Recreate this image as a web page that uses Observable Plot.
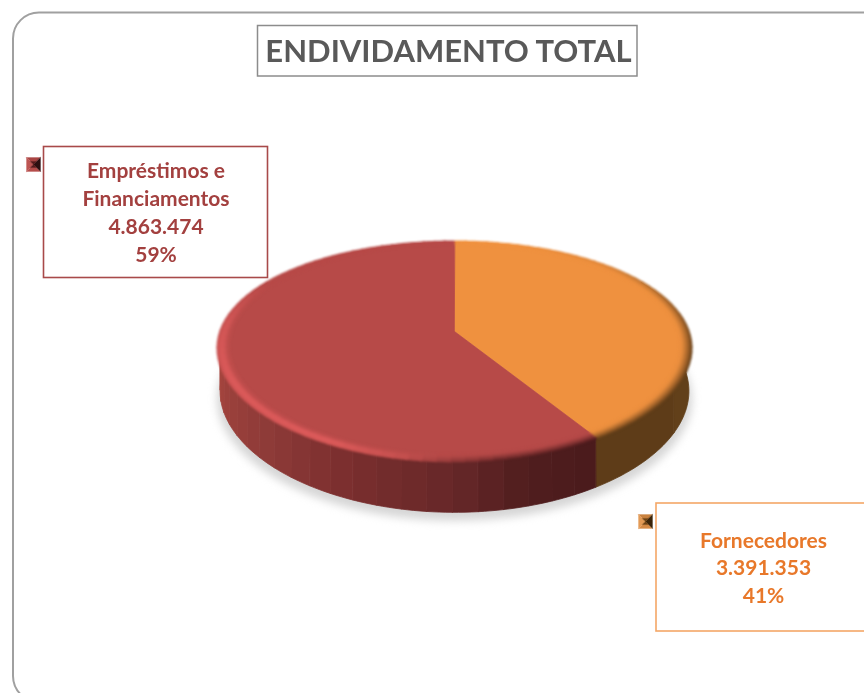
<!DOCTYPE html>
<html><head><meta charset="utf-8">
<style>html,body{margin:0;padding:0;background:#fff;overflow:hidden}svg{display:block}</style>
<script src="https://cdn.jsdelivr.net/npm/d3@7"></script>
<script src="https://cdn.jsdelivr.net/npm/@observablehq/plot@0.6"></script>
</head><body><div id="chart"></div>
<script>
const chartTitle = "ENDIVIDAMENTO TOTAL";
const categories = ["Fornecedores", "Empréstimos e Financiamentos"];
const values = [3391353, 4863474];
const valueLabels = ["3.391.353", "4.863.474"];
const percentLabels = ["41%", "59%"];
const nameLines = ["Fornecedores", "Empréstimos e\nFinanciamentos"];

const total = d3.sum(values);
const split = 360 * values[0] / total;            // clockwise from 12 o'clock
const ranges = [[0, split], [split, 360]];

// perspective disc
const cx = 454, cy = 331, R = 235.3, S = 107.4, k = 0.18, kx = 0.15;
const rad = Math.PI / 180;
const topPt = (a, s = 1) => {
  const u = s * Math.sin(a * rad), v = -s * Math.cos(a * rad);
  return [cx + R * u / (1 - kx * v), cy + S * v / (1 - k * v)];
};
const botPt = (a, dy = 42) => {
  const u = Math.sin(a * rad), v = -Math.cos(a * rad);
  return [cx + 0.985 * R * u / (1 - kx * v), cy + dy + 1.06 * S * v / (1 - k * v)];
};
const steps = (a0, a1, d) => {
  const n = Math.max(1, Math.ceil((a1 - a0) / d));
  return d3.range(n + 1).map(i => a0 + (a1 - a0) * i / n);
};

const baseColors = ["#ef913f", "#b74a48"];
const lightRed = "#dd5b5b", darkRed = "#47181a", darkOrange = "#5f3c18";
const wallRed = d3.scaleLinear().domain([split, 165, 180, 205, 225, 260, 300]).range(["#4a1a1c", "#501e1e", "#662728", "#7c2f2f", "#8d3a38", "#a5453e", "#a5453e"]);
const wallOrange = d3.scaleLinear().domain([60, 100, split]).range(["#66421a", "#62401a", "#5c3a17"]);
const hiRed = d3.scaleLinear().domain([180, 208, 245, 275, 300]).range([0, 1, .95, .7, 0]).clamp(true);
const dkRed = d3.scaleLinear().domain([split, 170, 192]).range([1, .8, 0]).clamp(true);
const dkOrange = d3.scaleLinear().domain([15, 45, 75, 100]).range([0, .15, .7, 1]).clamp(true);

// polygons
function poly(rows, id, pts, fill) { for (const [x, y] of pts) rows.push({x, y, id, fill}); }
const shadow = [], walls = [], tops = [], rings = [];
let id = 0;
poly(shadow, id++, steps(0, 360, 4).map(a => { const [x, y] = botPt(a, 50); return [x + (x - cx) * .012, y]; }), "#d6d6d6");
ranges.forEach(([a0, a1], c) => {
  const as = steps(Math.max(a0, 60), Math.min(a1, 300), c ? 5.5 : 30);
  d3.pairs(as).forEach(([p, q]) => {
    const m = (p + q) / 2;
    const pts = steps(p, q, 1.5);
    poly(walls, id++, [...pts.map(a => topPt(a, .985)), ...pts.slice().reverse().map(a => botPt(a))], c ? wallRed(m) : wallOrange(m));
  });
  poly(tops, id++, [[cx, cy], ...steps(a0, a1, 2).map(a => topPt(a, .975))], baseColors[c]);
  const layers = 7, width = .05;
  d3.range(layers).forEach(l => {
    const t = (l + .5) / layers, s1 = 1 - width * l / layers, s2 = 1 - width * (l + 1) / layers - .006;
    d3.pairs(steps(a0, a1, 3)).forEach(([p, q]) => {
      const m = (p + q) / 2;
      const qq = Math.min(q + .6, a1);
      let col = baseColors[c];
      if (c) {
        const bump = Math.sin(Math.PI * Math.min(1, (t + .12) / 1.12));
        col = d3.interpolateRgb(col, lightRed)(hiRed(m) * bump);
        col = d3.interpolateRgb(col, darkRed)(dkRed(m) * Math.pow(1 - t, 1.3));
      } else {
        col = d3.interpolateRgb(col, darkOrange)(dkOrange(m) * Math.pow(1 - t, 1.3));
      }
      poly(rings, id++, [...steps(p, qq, 1).map(a => topPt(a, s1)), ...steps(p, qq, 1).reverse().map(a => topPt(a, s2))], col);
    });
  });
});
const polyMark = (rows, extra = {}) => Plot.line(rows, {x: "x", y: "y", z: "id", curve: "linear-closed",
  fill: {value: "fill", scale: null}, stroke: {value: "fill", scale: null}, strokeWidth: .8, ...extra});

// label boxes
const boxes = [
  {x1: 656, x2: 900, y1: 503, y2: 631, stroke: "#f4a767", color: "#e8782a", tx: 763, ty: 566, i: 0},
  {x1: 43.5, x2: 267.5, y1: 146.5, y2: 277.5, stroke: "#a84a4a", color: "#a3403f", tx: 155.5, ty: 210.5, i: 1}
];
boxes.forEach(b => b.text = [nameLines[b.i], valueLabels[b.i], percentLabels[b.i]].join("\n"));

// legend keys with pyramid bevel
const keyDefs = [
  {x: 638, y: 514, s: 14, top: "#c9823f", left: "#e39a55", bottom: "#d58a45", right: "#3b2409", mid: "#6e4315"},
  {x: 26, y: 157, s: 14, top: "#a94543", left: "#bd5553", bottom: "#b54d4b", right: "#2c0f10", mid: "#551a1c"}
];
const keys = [];
keyDefs.forEach(d => {
  const c = [d.x + d.s / 2, d.y + d.s / 2], a = [d.x, d.y], b = [d.x + d.s, d.y], e = [d.x + d.s, d.y + d.s], f = [d.x, d.y + d.s];
  poly(keys, id++, [a, b, c], d.top);
  poly(keys, id++, [e, f, c], d.bottom);
  poly(keys, id++, [f, a, c], d.left);
  poly(keys, id++, [b, e, c], d.right);
  const inset = d.s * .28;
  poly(keys, id++, [[d.x + inset, d.y + inset], [d.x + d.s - inset, d.y + inset], c], d.mid);
  poly(keys, id++, [[d.x + inset, d.y + d.s - inset], [d.x + d.s - inset, d.y + d.s - inset], c], d.mid);
});

const font = "Lato, 'Open Sans', sans-serif";
const plot = Plot.plot({
  width: 864, height: 693, margin: 0,
  style: {background: "#fff", fontFamily: font},
  x: {domain: [0, 864], range: [0, 864], axis: null},
  y: {domain: [0, 693], range: [0, 693], axis: null},
  marks: [
    Plot.rect([{}], {x1: () => 13, x2: () => 930, y1: () => 12.5, y2: () => 702, rx: 26, fill: "#fff", stroke: "#a0a0a0", strokeWidth: 2, imageFilter: "blur(.4px)"}),
    polyMark(shadow, {imageFilter: "blur(4px)"}),
    polyMark(walls, {imageFilter: "blur(.5px)"}),
    polyMark(tops),
    polyMark(rings, {stroke: "none", imageFilter: "blur(.8px)"}),
    Plot.rect([{}], {x1: () => 257.5, x2: () => 637, y1: () => 25.5, y2: () => 76, fill: "#fff", stroke: "#8c8c8c", strokeWidth: 1.5}),
    Plot.text([chartTitle], {x: () => 448, y: () => 52, text: d => d, fill: "#595959", fontSize: 31, fontWeight: 700, fontFamily: font, imageFilter: "blur(.4px)"}),
    Plot.rect(boxes, {x1: "x1", x2: "x2", y1: "y1", y2: "y2", fill: "#fff", stroke: {value: "stroke", scale: null}, strokeWidth: 1.6}),
    polyMark(keys, {strokeWidth: .3, imageFilter: "blur(.4px)"}),
    Plot.text(boxes, {x: "tx", y: "ty", text: "text", fill: {value: "color", scale: null}, fontSize: 21, fontWeight: 700, lineHeight: 1.33, fontFamily: font, imageFilter: "blur(.35px)"})
  ]
});
document.getElementById("chart").append(plot);
</script></body></html>
